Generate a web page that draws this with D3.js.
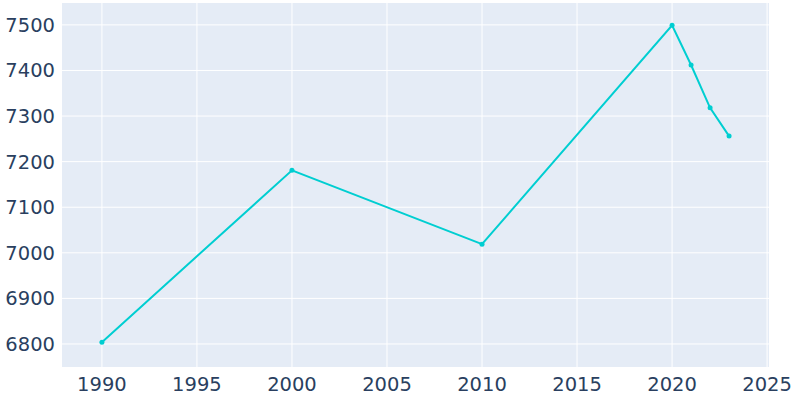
<!DOCTYPE html><html><head><script src="https://cdn.jsdelivr.net/npm/d3@7"></script>
<style>body{margin:0}text{font-family:"DejaVu Sans",sans-serif}</style></head><body><svg width="800" height="400"></svg>
<script>
const years=[1990,2000,2010,2020,2021,2022,2023];
const population=[6804,7181,7019,7499,7412,7318,7256];
const xTicks=[1990,1995,2000,2005,2010,2015,2020,2025];
const yTicks=[6800,6900,7000,7100,7200,7300,7400,7500];
const svg=d3.select("svg");
const L=62,R=769,T=3,B=367;
const x=d3.scaleLinear().domain([1987.9,2025.1]).range([L,R]);
const y=d3.scaleLinear().domain([6749.5,7548]).range([B,T]);
svg.append("rect").attr("x",L).attr("y",T).attr("width",R-L).attr("height",B-T).attr("fill","#e5ecf6");
svg.append("g").selectAll("line").data(xTicks).join("line").attr("x1",d=>x(d)).attr("x2",d=>x(d)).attr("y1",T).attr("y2",B).attr("stroke","#fff");
svg.append("g").selectAll("line").data(yTicks).join("line").attr("y1",d=>y(d)).attr("y2",d=>y(d)).attr("x1",L).attr("x2",R).attr("stroke","#fff");
svg.append("g").selectAll("text").data(xTicks).join("text").attr("x",d=>x(d)).attr("y",391).attr("text-anchor","middle").attr("font-size",19.5).attr("fill","#2a3f5f").text(d=>d);
svg.append("g").selectAll("text").data(yTicks).join("text").attr("x",55).attr("y",d=>y(d)+7).attr("text-anchor","end").attr("font-size",19.5).attr("fill","#2a3f5f").text(d=>d);
const pts=years.map((d,i)=>[d,population[i]]);
svg.append("path").datum(pts).attr("d",d3.line().x(d=>x(d[0])).y(d=>y(d[1]))).attr("fill","none").attr("stroke","#00ced1").attr("stroke-width",2);
svg.append("g").selectAll("circle").data(pts).join("circle").attr("cx",d=>x(d[0])).attr("cy",d=>y(d[1])).attr("r",2.5).attr("fill","#00ced1");
</script></body></html>
